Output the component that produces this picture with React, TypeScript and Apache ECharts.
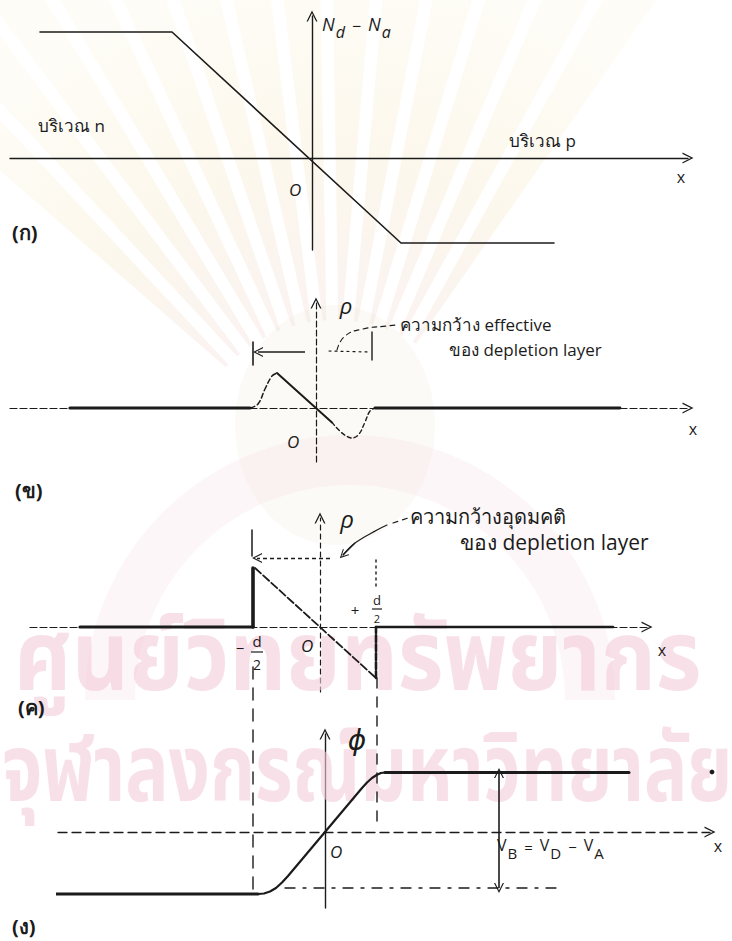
import React, { useEffect, useRef } from "react";
import * as echarts from "echarts";

// ---------- sketch data (one unit = one grid step of the panel it belongs to) ----------

// (ก) net doping N_d - N_a of a linearly graded junction
const dopingProfile = [[-27.2, 12.6], [-14.0, 12.6], [8.9, -8.5], [24.2, -8.5]];

// (ข) charge density ρ with its effective depletion width
const rhoNeutralLeft = [[-24.6, 0], [-6.6, 0]];
const rhoTailLeft = [[-6.6, 0], [-5.8, 0.4], [-5.1, 1.9], [-4.4, 3.2], [-3.9, 3.5]];
const rhoLinear = [[-3.9, 3.5], [1.6, -1.44]];
const rhoTailRight = [[1.6, -1.44], [3.6, -3.0], [4.3, -2.6], [4.9, -1.4], [5.4, -0.3], [5.9, 0]];
const rhoNeutralRight = [[5.9, 0], [30.4, 0]];
const effEdgeLeft = [[-6.3, 6.6], [-6.3, 4.3]];
const effEdgeRight = [[5.6, 7.6], [5.6, 4.8]];
const effArrow = [[-1.1, 5.6], [-5.8, 5.6]];
const effDots = [[1.3, 5.7], [5.4, 5.6]];
const effLeader = [[2.1, 5.8], [2.9, 7.2], [4.7, 7.9], [7.1, 8.2], [8.0, 8.3]];

// (ค) ideal charge density, edges at -d/2 and +d/2
const idealNeutralLeft = [[-24.0, 0], [-6.7, 0]];
const idealEdgeLeft = [[-6.7, 0], [-6.7, 5.9]];
const idealLinear = [[-6.5, 5.9], [5.6, -5.1]];
const idealEdgeRight = [[5.6, -5.1], [5.6, 0]];
const idealNeutralRight = [[5.6, 0], [29.3, 0]];
const idealTickLeft = [[-6.8, 9.7], [-6.8, 7.1]];
const idealArrow = [[1.0, 6.9], [-6.3, 6.9]];
const idealTickRight = [[5.6, 6.7], [5.6, 3.7]];
const idealLeader = [[2.3, 7.2], [3.5, 8.4], [5.7, 9.7], [6.7, 10.2]];
const idealLeaderTail = [[7.3, 10.4], [8.8, 10.9]];

// (ง) potential ϕ and barrier height V_B
const phiLow = [[-27.5, -6.2], [-6.7, -6.2]];
const phiTransition = [
  [-6.7, -6.2], [-6.1, -6.15], [-5.5, -5.95], [-4.9, -5.6], [-4.3, -5.05], [-3.7, -4.4],
  [3.7, 4.4], [4.2, 4.95], [4.7, 5.4], [5.2, 5.72], [5.6, 5.9], [6.0, 5.95],
];
const phiHigh = [[6.0, 5.95], [30.4, 5.95]];
const phiBottomLevel = [[-4.0, -5.6], [23.4, -5.6]];
const barrierSpan = [[17.4, 5.9], [17.4, -5.6]];
const guideLeft = [[-7.2, 16.5], [-7.2, -6.0]];
const guideRight = [[5.2, 15.4], [5.2, 0.3]];

// ---------- layout ----------
const UNIT = 10; // px per sketch unit
const INK = "#1b1b1b";
const HAND = "'Open Sans', 'DejaVu Sans', 'Noto Sans', sans-serif";
const CHEVRON = "path://M0,16 L8,0 L16,16 L14,16 L8,4 L2,16 Z";

type Panel = {
  ox: number; oy: number; left: number; right: number; top: number; bottom: number;
  xLine: any; yLine: any;
};

const PANELS: Panel[] = [
  { ox: 312, oy: 158, left: 10, right: 688, top: 16, bottom: 250,
    xLine: { width: 1.3, type: "solid" }, yLine: { width: 1.4, type: "solid" } },
  { ox: 316, oy: 408, left: 10, right: 688, top: 303, bottom: 462,
    xLine: { width: 1.2, type: [7, 3] }, yLine: { width: 1.2, type: [6, 3] } },
  { ox: 320, oy: 627, left: 30, right: 647, top: 518, bottom: 692,
    xLine: { width: 1.2, type: [7, 3] }, yLine: { width: 1.2, type: [5, 4] } },
  { ox: 325, oy: 832, left: 58, right: 710, top: 734, bottom: 908,
    xLine: { width: 1.3, type: [9, 5] }, yLine: { width: 1.4, type: "solid" } },
];

function line(panel: number, data: number[][], style: any = {}, extra: any = {}) {
  return {
    type: "line", xAxisIndex: panel, yAxisIndex: panel, data, symbol: "none",
    silent: true, clip: false, animation: false,
    lineStyle: { color: INK, width: 1.5, cap: "round", join: "round", ...style },
    ...extra,
  };
}

function arrow(panel: number, coords: number[][], ends: string[], style: any = {}, size = 9) {
  return {
    type: "lines", coordinateSystem: "cartesian2d", xAxisIndex: panel, yAxisIndex: panel,
    silent: true, clip: false, animation: false,
    symbol: ends, symbolSize: size,
    lineStyle: { color: INK, width: 1.3, opacity: 1, curveness: 0, ...style },
    data: [{ coords }],
  };
}

function label(x: number, y: number, text: string, size = 17, extra: any = {}) {
  const align = extra.align || "center";
  return {
    type: "text", x, y, z: 20, silent: true,
    style: {
      text, fill: INK, fontFamily: HAND, fontSize: size,
      fontStyle: extra.italic ? "italic" : "normal",
      fontWeight: extra.bold ? "bold" : "normal",
      align, textAlign: align, verticalAlign: "middle", textVerticalAlign: "middle",
      rich: extra.rich,
    },
  };
}

// rich-text styles for symbols with subscripts
const richSub = (main: number, sub: number, italic: boolean) => ({
  m: { fontSize: main, fontFamily: HAND, fill: INK, fontStyle: italic ? "italic" : "normal", padding: [0, 0, 7, 0] },
  s: { fontSize: sub, fontFamily: HAND, fill: INK, fontStyle: italic ? "italic" : "normal", padding: [9, 0, 0, 1] },
  o: { fontSize: sub, fontFamily: HAND, fill: INK, padding: [0, 7, 2, 7] },
});

function watermark() {
  const els: any[] = [];
  const cx = 335, cy = 470;
  const rayFill = {
    type: "radial", x: cx, y: cy, r: 520, global: true,
    colorStops: [
      { offset: 0.3, color: "rgba(238, 212, 205, 0.28)" },
      { offset: 0.6, color: "rgba(246, 232, 196, 0.32)" },
      { offset: 1, color: "rgba(250, 242, 215, 0.2)" },
    ],
  };
  for (let i = 0; i < 14; i++) {
    const a = (-136 + i * 6) * Math.PI / 180;
    const w = 2.4 * Math.PI / 180;
    const r0 = 150, r1 = 620;
    const pts = [
      [cx + r0 * Math.cos(a - w * 0.3), cy + r0 * Math.sin(a - w * 0.3)],
      [cx + r1 * Math.cos(a - w), cy + r1 * Math.sin(a - w)],
      [cx + r1 * Math.cos(a + w), cy + r1 * Math.sin(a + w)],
      [cx + r0 * Math.cos(a + w * 0.3), cy + r0 * Math.sin(a + w * 0.3)],
    ];
    els.push({ type: "polygon", z: 0, silent: true, shape: { points: pts }, style: { fill: rayFill } });
  }
  els.push({
    type: "ellipse", z: 0, silent: true,
    shape: { cx: 335, cy: 425, rx: 100, ry: 120 },
    style: { fill: "rgba(236, 224, 200, 0.16)" },
  });
  els.push({
    type: "sector", z: 0, silent: true,
    shape: { cx: 350, cy: 700, r0: 215, r: 265, startAngle: Math.PI, endAngle: Math.PI * 2 },
    style: { fill: "rgba(246, 214, 224, 0.22)" },
  });
  const wmText = (x: number, y: number, text: string, size: number, sx: number) => ({
    type: "text", x, y, z: 1, silent: true, scaleX: sx,
    style: {
      text, fill: "rgba(243, 204, 218, 0.6)", fontFamily: "'Noto Sans Thai', 'Noto Sans', sans-serif",
      fontSize: size, fontWeight: "bold", align: "left", textAlign: "left",
      verticalAlign: "middle", textVerticalAlign: "middle",
    },
  });
  els.push(wmText(14, 660, "ศูนย์วิทยทรัพยากร", 98, 0.9));
  els.push(wmText(2, 772, "จุฬาลงกรณ์มหาวิทยาลัย", 94, 0.77));
  return els;
}

function fractionBar(x1: number, x2: number, y: number) {
  return {
    type: "line", z: 20, silent: true,
    shape: { x1, y1: y, x2, y2: y }, style: { stroke: INK, lineWidth: 1.2 },
  };
}

function buildOption() {
  const grid = PANELS.map((p) => ({
    left: p.left, top: p.top, width: p.right - p.left, height: p.bottom - p.top,
  }));
  const xAxis = PANELS.map((p, i) => ({
    type: "value", gridIndex: i,
    min: (p.left - p.ox) / UNIT, max: (p.right - p.ox) / UNIT,
    axisLine: {
      show: true, onZero: true, symbol: ["none", CHEVRON], symbolSize: [11, 13],
      lineStyle: { color: INK, ...p.xLine },
    },
    axisTick: { show: false }, axisLabel: { show: false }, splitLine: { show: false },
  }));
  const yAxis = PANELS.map((p, i) => ({
    type: "value", gridIndex: i,
    min: (p.oy - p.bottom) / UNIT, max: (p.oy - p.top) / UNIT,
    axisLine: {
      show: true, onZero: true, symbol: ["none", CHEVRON], symbolSize: [11, 13],
      lineStyle: { color: INK, ...p.yLine },
    },
    axisTick: { show: false }, axisLabel: { show: false }, splitLine: { show: false },
  }));

  const series: any[] = [
    // (ก)
    line(0, dopingProfile, { width: 1.6 }),
    // (ข)
    line(1, rhoNeutralLeft, { width: 3.2 }),
    line(1, rhoTailLeft, { width: 1.5, type: [5, 3] }, { smooth: 0.4 }),
    line(1, rhoLinear, { width: 2 }),
    line(1, rhoTailRight, { width: 1.4, type: [4, 3] }, { smooth: 0.4 }),
    line(1, rhoNeutralRight, { width: 2.8 }),
    line(1, effEdgeLeft, { width: 1.6 }),
    line(1, effEdgeRight, { width: 1.4 }),
    arrow(1, effArrow, ["none", CHEVRON], { width: 1.5 }, 10),
    line(1, effDots, { width: 1.2, type: [2, 4] }),
    line(1, effLeader, { width: 1.1, type: [5, 4] }, { smooth: 0.5 }),
    // (ค)
    line(2, idealNeutralLeft, { width: 3.2 }),
    line(2, idealEdgeLeft, { width: 3.6 }),
    line(2, idealLinear, { width: 1.8, type: [8, 3] }),
    line(2, idealEdgeRight, { width: 2.6, type: [7, 2] }),
    line(2, idealNeutralRight, { width: 2.6 }),
    line(2, idealTickLeft, { width: 1.5 }),
    arrow(2, idealArrow, ["none", CHEVRON], { width: 1.3, type: [4, 3] }, 10),
    line(2, idealTickRight, { width: 1.4, type: [2, 4] }),
    line(2, idealLeader, { width: 1.2 }, { smooth: 0.4 }),
    arrow(2, [idealLeader[1], idealLeader[0]], ["none", CHEVRON], { width: 1.2 }, 9),
    line(2, idealLeaderTail, { width: 1.2, type: [5, 5] }),
    // (ง)
    line(3, phiLow, { width: 3.2 }),
    line(3, phiTransition, { width: 2.2 }),
    line(3, phiHigh, { width: 3 }),
    line(3, guideLeft, { width: 1.4, type: [12, 9] }),
    line(3, guideRight, { width: 1.4, type: [10, 9] }),
    line(3, phiBottomLevel, { width: 1.3, type: [10, 8, 3, 8] }),
    arrow(3, barrierSpan, [CHEVRON, CHEVRON], { width: 1.6 }, 10),
  ];

  const graphic: any[] = [
    ...watermark(),
    // (ก)
    label(12, 232, "(ก)", 20, { bold: true, align: "left" }),
    label(295, 189, "O", 17, { italic: true }),
    label(681, 177, "x", 16),
    label(322, 27, "{m|N}{s|d}{o|−}{m|N}{s|a}", 18, { align: "left", rich: richSub(18, 16, true) }),
    label(38, 125, "บริเวณ n", 17, { align: "left" }),
    label(509, 140, "บริเวณ p", 17, { align: "left" }),
    // (ข)
    label(15, 490, "(ข)", 20, { bold: true, align: "left" }),
    label(293, 441, "O", 17, { italic: true }),
    label(693, 429, "x", 16),
    label(346, 305, "ρ", 22, { italic: true }),
    label(400, 324, "ความกว้าง effective", 17, { align: "left" }),
    label(449, 349, "ของ depletion layer", 17, { align: "left" }),
    // (ค)
    label(18, 707, "(ค)", 20, { bold: true, align: "left" }),
    label(307, 645, "O", 17, { italic: true }),
    label(662, 650, "x", 16),
    label(347, 518, "ρ", 24, { italic: true }),
    label(240, 648, "−", 15),
    label(257, 641, "d", 15),
    fractionBar(251, 263, 652),
    label(257, 664, "2", 14),
    label(355, 610, "+", 15),
    label(377, 600, "d", 13),
    fractionBar(372, 382, 609),
    label(377, 618, "2", 11),
    label(410, 516, "ความกว้างอุดมคติ", 20, { align: "left" }),
    label(460, 542, "ของ depletion layer", 21, { align: "left" }),
    // (ง)
    label(12, 926, "(ง)", 20, { bold: true, align: "left" }),
    label(336, 851, "O", 17, { italic: true }),
    label(718, 846, "x", 16),
    label(357, 739, "ϕ", 28, { italic: true }),
    label(497, 848, "{m|V}{s|B}{o|=}{m|V}{s|D}{o|−}{m|V}{s|A}", 16, { align: "left", rich: richSub(16, 15, false) }),
    { type: "circle", z: 20, silent: true, shape: { cx: 712, cy: 772, r: 2.4 }, style: { fill: INK } },
  ];

  return {
    animation: false,
    backgroundColor: "#ffffff",
    grid, xAxis, yAxis, series, graphic,
  };
}

export default function App() {
  const ref = useRef<HTMLDivElement>(null);
  useEffect(() => {
    document.body.style.margin = "0";
    if (!ref.current) return;
    const chart = echarts.init(ref.current, undefined, { renderer: "svg" });
    chart.setOption(buildOption() as any);
    return () => chart.dispose();
  }, []);
  return <div ref={ref} style={{ width: 732, height: 941 }} />;
}
